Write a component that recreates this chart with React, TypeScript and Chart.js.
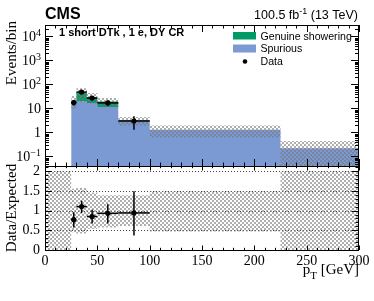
import React, { useEffect, useRef } from 'react';
import { Chart, registerables } from 'chart.js';

Chart.register(...registerables);

// ---------- data ----------
const binEdges = [25, 30, 40, 50, 70, 100, 225, 300];
const spurious = [20, 20, 17, 11.5, 3.0, 1.3, 0.22];
const genuine = [1.5, 24, 13, 8, 0.2, 0, 0];

const dataBinLo = [25, 30, 40, 50, 70];
const dataBinHi = [30, 40, 50, 70, 100];
const dataX = [27.5, 35, 45, 60, 85];
const dataY = [17.5, 48, 27, 17, 3.0];
const dataErrUp = [4.7, 7.6, 5.7, 4.6, 1.7];
const dataErrDown = [4.1, 6.9, 5.2, 4.1, 1.7];

const ratio = [0.77, 1.1, 0.85, 0.93, 0.94];
const ratioErrUp = [0.19, 0.15, 0.17, 0.23, 0.55];
const ratioErrDown = [0.2, 0.16, 0.18, 0.26, 0.57];

const bandEdges = [0, 25, 30, 40, 50, 70, 100, 225, 300];
const bandHi = [2, 1.55, 1.57, 1.46, 1.39, 1.39, 1.49, 2];
const bandLo = [0, 0.45, 0.42, 0.53, 0.57, 0.61, 0.47, 0];

const xMajorTicks = [0, 50, 100, 150, 200, 250, 300];
const xTickLabels = ['0', '50', '100', '150', '200', '250', '300'];
const upperTickValues = [0.1, 1, 10, 100, 1000, 10000];
const upperTickBase = ['10', '1', '10', '10', '10', '10'];
const upperTickExp = ['\u22121', '', '', '2', '3', '4'];
const ratioTickValues = [0, 0.5, 1, 1.5, 2];
const ratioTickLabels = ['0', '0.5', '1', '1.5', '2'];

const legendLabels = ['Genuine showering', 'Spurious', 'Data'];

// ---------- styles ----------
const GREEN = '#009a66';
const BLUE = '#7b9ad3';
const SERIF = '"Liberation Serif", "DejaVu Serif", serif';
const SANS = '"Liberation Sans", Arial, sans-serif';

function steps(edges: number[], vals: number[]) {
  const pts: { x: number; y: number }[] = [];
  for (let i = 0; i < vals.length; i++) {
    pts.push({ x: edges[i], y: vals[i] });
    pts.push({ x: edges[i + 1], y: vals[i] });
  }
  return pts;
}

function makeHatch(): CanvasPattern | string {
  const c = document.createElement('canvas');
  c.width = 4;
  c.height = 4;
  const g = c.getContext('2d');
  if (!g) return 'rgba(150,150,150,0.4)';
  g.fillStyle = 'rgba(120,120,120,0.6)';
  g.fillRect(0, 0, 2, 2);
  g.fillRect(2, 2, 2, 2);
  return g.createPattern(c, 'repeat') || 'rgba(150,150,150,0.4)';
}

function line(ctx: CanvasRenderingContext2D, x1: number, y1: number, x2: number, y2: number) {
  ctx.beginPath();
  ctx.moveTo(x1, y1);
  ctx.lineTo(x2, y2);
  ctx.stroke();
}

function drawXTicks(chart: any, major: number, minor: number) {
  const { ctx, chartArea: a } = chart;
  const xs = chart.scales.x;
  ctx.save();
  ctx.strokeStyle = '#000';
  ctx.lineWidth = 1;
  for (let v = 0; v <= 300; v += 10) {
    const px = Math.round(xs.getPixelForValue(v)) + 0.5;
    const len = xMajorTicks.includes(v) ? major : minor;
    line(ctx, px, a.bottom, px, a.bottom - len);
    line(ctx, px, a.top, px, a.top + len);
  }
  ctx.restore();
}

function drawYTicks(chart: any, vals: number[], isMajor: (v: number) => boolean, major: number, minor: number) {
  const { ctx, chartArea: a } = chart;
  const ys = chart.scales.y;
  ctx.save();
  ctx.strokeStyle = '#000';
  ctx.lineWidth = 1;
  for (const v of vals) {
    const py = Math.round(ys.getPixelForValue(v)) + 0.5;
    if (py < a.top - 0.1 || py > a.bottom + 0.1) continue;
    const len = isMajor(v) ? major : minor;
    line(ctx, a.left, py, a.left + len, py);
    line(ctx, a.right, py, a.right - len, py);
  }
  ctx.restore();
}

function drawFrame(chart: any) {
  const { ctx, chartArea: a } = chart;
  ctx.save();
  ctx.strokeStyle = '#000';
  ctx.lineWidth = 1;
  ctx.strokeRect(a.left + 0.5, a.top + 0.5, a.right - a.left - 1, a.bottom - a.top);
  ctx.restore();
}

function drawErrorBars(chart: any, xs: number[], lo: number[], hi: number[], ys: number[], eu: number[], ed: number[]) {
  const { ctx } = chart;
  const sx = chart.scales.x;
  const sy = chart.scales.y;
  ctx.save();
  ctx.strokeStyle = '#000';
  ctx.lineWidth = 1.5;
  for (let i = 0; i < xs.length; i++) {
    const px = sx.getPixelForValue(xs[i]);
    const py = sy.getPixelForValue(ys[i]);
    line(ctx, px, sy.getPixelForValue(ys[i] + eu[i]), px, sy.getPixelForValue(ys[i] - ed[i]));
    line(ctx, sx.getPixelForValue(lo[i]), py, sx.getPixelForValue(hi[i]), py);
  }
  ctx.restore();
}

function textWithSup(ctx: CanvasRenderingContext2D, parts: { t: string; sup?: boolean; sub?: boolean }[], x: number, y: number, size: number, family: string, align: 'left' | 'right', weight = 'normal') {
  const small = Math.round(size * 0.7);
  const widths = parts.map((p) => {
    ctx.font = `${weight} ${p.sup || p.sub ? small : size}px ${family}`;
    return ctx.measureText(p.t).width;
  });
  const total = widths.reduce((s, w) => s + w, 0);
  let cx = align === 'right' ? x - total : x;
  ctx.textAlign = 'left';
  ctx.textBaseline = 'alphabetic';
  parts.forEach((p, i) => {
    ctx.font = `${weight} ${p.sup || p.sub ? small : size}px ${family}`;
    const dy = p.sup ? -size * 0.42 : p.sub ? size * 0.3 : 0;
    ctx.fillText(p.t, cx, y + dy);
    cx += widths[i];
  });
}

const upperPlugin = {
  id: 'upperDecor',
  afterDatasetsDraw(chart: any) {
    const { ctx } = chart;
    drawErrorBars(chart, dataX, dataBinLo, dataBinHi, dataY, dataErrUp, dataErrDown);
    const sx = chart.scales.x;
    const sy = chart.scales.y;
    ctx.save();
    ctx.fillStyle = '#000';
    for (let i = 0; i < dataX.length; i++) {
      ctx.beginPath();
      ctx.arc(sx.getPixelForValue(dataX[i]), sy.getPixelForValue(dataY[i]), 2.6, 0, Math.PI * 2);
      ctx.fill();
    }
    ctx.restore();
  },
  afterDraw(chart: any) {
    const { ctx, chartArea: a } = chart;
    const sy = chart.scales.y;
    drawFrame(chart);
    drawXTicks(chart, 7, 3.5);
    const logVals: number[] = [];
    for (let d = -2; d <= 4; d++) for (let k = 1; k <= 9; k++) logVals.push(k * Math.pow(10, d));
    drawYTicks(chart, logVals, (v) => Math.abs(Math.log10(v) - Math.round(Math.log10(v))) < 1e-6, 8, 4);

    ctx.save();
    ctx.fillStyle = '#000';
    upperTickValues.forEach((v, i) => {
      const py = sy.getPixelForValue(v) + 5;
      const parts: { t: string; sup?: boolean }[] = [{ t: upperTickBase[i] }];
      if (upperTickExp[i]) parts.push({ t: upperTickExp[i], sup: true });
      textWithSup(ctx, parts, 41, py, 14, SERIF, 'right');
    });
    ctx.save();
    ctx.translate(16, a.top - 4);
    ctx.rotate(-Math.PI / 2);
    ctx.font = `15px ${SERIF}`;
    ctx.textAlign = 'right';
    ctx.textBaseline = 'alphabetic';
    ctx.fillText('Events/bin', 0, 0);
    ctx.restore();

    ctx.font = `bold 16px ${SANS}`;
    ctx.textAlign = 'left';
    ctx.textBaseline = 'alphabetic';
    ctx.fillText('CMS', 45, 19);
    textWithSup(ctx, [{ t: '100.5 fb' }, { t: '-1', sup: true }, { t: ' (13 TeV)' }], 358, 19, 12.5, SANS, 'right');

    ctx.font = `bold 11px ${SANS}`;
    ctx.textAlign = 'left';
    ctx.fillText('1 short DTk , 1 e, DY CR', 59, 36);

    ctx.fillStyle = GREEN;
    ctx.fillRect(233, 32, 23, 7.5);
    ctx.fillStyle = BLUE;
    ctx.fillRect(233, 44.5, 23, 8);
    ctx.fillStyle = '#000';
    ctx.beginPath();
    ctx.arc(245, 61.5, 2.3, 0, Math.PI * 2);
    ctx.fill();
    ctx.font = `10.6px ${SANS}`;
    ctx.fillText(legendLabels[0], 260.5, 39.5);
    ctx.fillText(legendLabels[1], 260.5, 52);
    ctx.fillText(legendLabels[2], 260.5, 65);
    ctx.restore();
  },
};

const ratioPlugin = {
  id: 'ratioDecor',
  beforeDatasetsDraw(chart: any) {
    const { ctx, chartArea: a } = chart;
    const sy = chart.scales.y;
    ctx.save();
    ctx.strokeStyle = '#444';
    ctx.lineWidth = 1;
    ctx.setLineDash([1, 2]);
    for (const v of [0.5, 1, 1.5, 2]) {
      const py = Math.round(sy.getPixelForValue(v)) + 0.5;
      line(ctx, a.left, py, a.right, py);
    }
    ctx.restore();
  },
  afterDatasetsDraw(chart: any) {
    const { ctx } = chart;
    drawErrorBars(chart, dataX, dataBinLo, dataBinHi, ratio, ratioErrUp, ratioErrDown);
    const sx = chart.scales.x;
    const sy = chart.scales.y;
    ctx.save();
    ctx.fillStyle = '#000';
    for (let i = 0; i < dataX.length; i++) {
      ctx.beginPath();
      ctx.arc(sx.getPixelForValue(dataX[i]), sy.getPixelForValue(ratio[i]), 2.6, 0, Math.PI * 2);
      ctx.fill();
    }
    ctx.restore();
  },
  afterDraw(chart: any) {
    const { ctx, chartArea: a } = chart;
    const sx = chart.scales.x;
    const sy = chart.scales.y;
    drawFrame(chart);
    drawXTicks(chart, 4.5, 2.2);
    const lin: number[] = [];
    for (let i = 0; i <= 21; i++) lin.push(i / 10);
    drawYTicks(chart, lin, (v) => Math.abs(v * 2 - Math.round(v * 2)) < 1e-6, 7, 3.5);

    ctx.save();
    ctx.fillStyle = '#000';
    ctx.font = `14px ${SERIF}`;
    ctx.textBaseline = 'middle';
    ctx.textAlign = 'right';
    ratioTickValues.forEach((v, i) => {
      ctx.fillText(ratioTickLabels[i], 40, sy.getPixelForValue(v));
    });
    ctx.textAlign = 'center';
    ctx.textBaseline = 'alphabetic';
    xMajorTicks.forEach((v, i) => {
      ctx.fillText(xTickLabels[i], sx.getPixelForValue(v), 265);
    });
    textWithSup(ctx, [{ t: 'p' }, { t: 'T', sub: true }, { t: ' [GeV]' }], 359, 274, 15, SERIF, 'right');
    ctx.save();
    ctx.translate(16, (a.top + a.bottom) / 2);
    ctx.rotate(-Math.PI / 2);
    ctx.font = `15px ${SERIF}`;
    ctx.textAlign = 'center';
    ctx.textBaseline = 'alphabetic';
    ctx.fillText('Data/Expected', 0, 0);
    ctx.restore();
    ctx.restore();
  },
};

const W = 374;
const H = 301;
const LEFT = 45;
const RIGHT = 359;
const TOP = 25;
const SPLIT = 166;
const BOTTOM = 250;

export default function App() {
  const upperRef = useRef<HTMLCanvasElement | null>(null);
  const ratioRef = useRef<HTMLCanvasElement | null>(null);

  useEffect(() => {
    const hatch = makeHatch();
    const total = spurious.map((s, i) => s + genuine[i]);
    const upHi = total.map((t, i) => t * bandHi[i + 1]);
    const upLo = total.map((t, i) => Math.max(t * bandLo[i + 1], 1e-4));
    const common = {
      borderColor: 'transparent',
      borderWidth: 0,
      pointRadius: 0,
      tension: 0,
    };
    const baseOpts = (padding: any, y: any) => ({
      animation: false as const,
      responsive: false,
      maintainAspectRatio: false,
      events: [] as any[],
      layout: { padding },
      plugins: {
        legend: { display: false },
        tooltip: { enabled: false },
        title: { display: false },
      },
      scales: {
        x: { type: 'linear', min: 0, max: 300, display: false },
        y: { ...y, display: false },
      },
    });

    const upper = new Chart(upperRef.current as HTMLCanvasElement, {
      type: 'line',
      data: {
        datasets: [
          { ...common, data: steps(binEdges, spurious), fill: 'start', backgroundColor: BLUE, order: 5 },
          { ...common, data: steps(binEdges, total), fill: '-1', backgroundColor: GREEN, order: 4 },
          { ...common, data: steps(binEdges, upHi), fill: '+1', backgroundColor: hatch, order: 3 },
          { ...common, data: steps(binEdges, upLo), fill: false, order: 3 },
        ],
      },
      options: baseOpts(
        { left: LEFT, top: TOP, right: W - RIGHT, bottom: H - SPLIT },
        { type: 'logarithmic', min: 0.04, max: 30000 }
      ) as any,
      plugins: [upperPlugin],
    });

    const ratioChart = new Chart(ratioRef.current as HTMLCanvasElement, {
      type: 'line',
      data: {
        datasets: [
          { ...common, data: steps(bandEdges, bandHi), fill: '+1', backgroundColor: hatch, order: 3 },
          { ...common, data: steps(bandEdges, bandLo), fill: false, order: 3 },
        ],
      },
      options: baseOpts(
        { left: LEFT, top: SPLIT, right: W - RIGHT, bottom: H - BOTTOM },
        { type: 'linear', min: 0, max: 2.13 }
      ) as any,
      plugins: [ratioPlugin],
    });

    return () => {
      upper.destroy();
      ratioChart.destroy();
    };
  }, []);

  const cs: React.CSSProperties = { position: 'absolute', left: 0, top: 0, width: W, height: H };
  return (
    <div style={{ position: 'fixed', left: 0, top: 0, width: W, height: H, background: '#fff' }}>
      <canvas ref={upperRef} width={W} height={H} style={cs} />
      <canvas ref={ratioRef} width={W} height={H} style={cs} />
    </div>
  );
}
